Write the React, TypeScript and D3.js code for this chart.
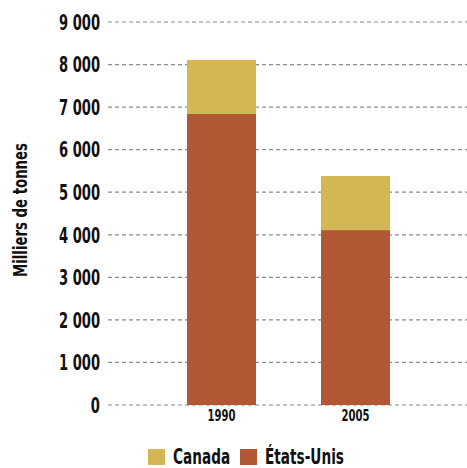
import React from "react";
import * as d3 from "d3";

const years = ["1990", "2005"];
const canada = [1270, 1270];
const usa = [6840, 4110];
const yTicks = [0, 1000, 2000, 3000, 4000, 5000, 6000, 7000, 8000, 9000];
const seriesNames = ["Canada", "États-Unis"];
const colors = ["#D4B753", "#B05834"];

const W = 467;
const H = 468;
const FONT = "'DejaVu Sans', sans-serif";

function CText({ x, y, sx, size, anchor, children, dy }: any) {
  return (
    <text
      transform={`translate(${x},${y}) scale(${sx},1)`}
      textAnchor={anchor || "start"}
      fontSize={size}
      fontWeight="bold"
      fill="#111"
      dy={dy}
    >
      {children}
    </text>
  );
}

export default function App() {
  const y = d3.scaleLinear().domain([0, 9000]).range([405, 22]);
  const x = d3.scaleBand<string>().domain(years).range([120, 457]).paddingInner(0.485).paddingOuter(0.5);
  const fmt = (v: number) => d3.format(",")(v).replace(/,/g, " ");
  return (
    <svg width={W} height={H} style={{ position: "absolute", left: 0, top: 0, fontFamily: FONT }}>
      <rect width={W} height={H} fill="#fff" />
      {yTicks.map((t) => (
        <g key={t}>
          <line x1={108} x2={467} y1={y(t)} y2={y(t)} stroke="#8c8c8c" strokeWidth={1.2} strokeDasharray="4,3" />
          <CText x={100} y={y(t)} dy="0.36em" anchor="end" size={21.5} sx={0.61}>
            {fmt(t)}
          </CText>
        </g>
      ))}
      {years.map((yr, i) => (
        <g key={yr}>
          <rect x={x(yr)} width={x.bandwidth()} y={y(usa[i])} height={y(0) - y(usa[i])} fill={colors[1]} />
          <rect x={x(yr)} width={x.bandwidth()} y={y(usa[i] + canada[i])} height={y(usa[i]) - y(usa[i] + canada[i])} fill={colors[0]} />
          <CText x={(x(yr) as number) + x.bandwidth() / 2} y={421} anchor="middle" size={16.5} sx={0.61}>
            {yr}
          </CText>
        </g>
      ))}
      <text
        transform="translate(27,210) rotate(-90)"
        textAnchor="middle"
        fontSize={19.5}
        fontWeight="bold"
        fill="#111"
        textLength={134}
        lengthAdjust="spacingAndGlyphs"
      >
        Milliers de tonnes
      </text>
      <g>
        <rect x={148} y={449} width={17} height={16} fill={colors[0]} />
        <CText x={173} y={463.5} size={21} sx={0.65}>{seriesNames[0]}</CText>
        <rect x={240} y={449} width={17} height={16} fill={colors[1]} />
        <CText x={265} y={463.5} size={21} sx={0.65}>{seriesNames[1]}</CText>
      </g>
    </svg>
  );
}
